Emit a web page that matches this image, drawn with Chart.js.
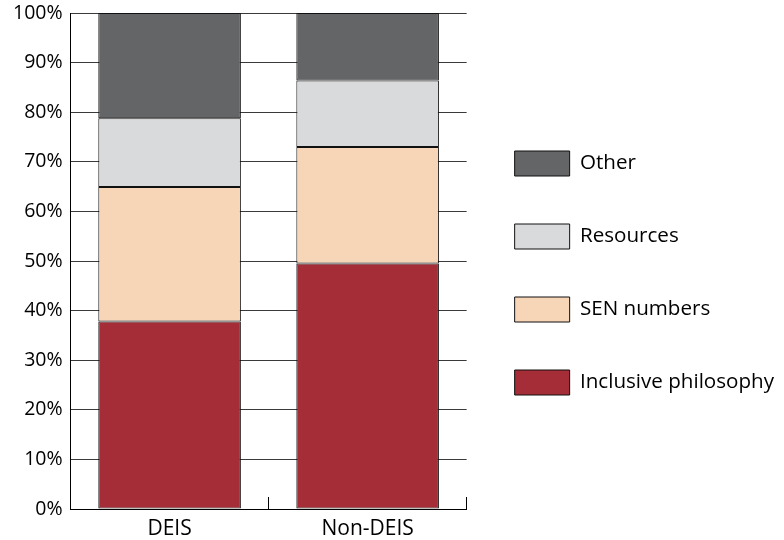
<!DOCTYPE html>
<html>
<head>
<meta charset="utf-8">
<script src="https://cdn.jsdelivr.net/npm/chart.js@4"></script>
<style>
  html, body { margin: 0; padding: 0; background: #fff; }
  #wrap { width: 784px; height: 540px; }
</style>
</head>
<body>
<div id="wrap"><canvas id="chart" width="784" height="540"></canvas></div>
<script>
const categories = ["DEIS", "Non-DEIS"];
const inclusive = [37.8, 49.5];
const senNumbers = [27.1, 23.5];
const resources = [13.9, 13.4];
const other = [21.2, 13.6];
const yTicks = [0, 10, 20, 30, 40, 50, 60, 70, 80, 90, 100];

const FONT = "'Open Sans', 'Noto Sans', sans-serif";

function makeSet(label, data, color) {
  return {
    label: label,
    data: data,
    backgroundColor: color,
    borderColor: "#111",
    borderWidth: 1,
    borderSkipped: false,
    barPercentage: 0.72,
    categoryPercentage: 1
  };
}

const chart = new Chart(document.getElementById("chart"), {
  type: "bar",
  data: {
    labels: categories,
    datasets: [
      makeSet("Inclusive philosophy", inclusive, "#a42d37"),
      makeSet("SEN numbers", senNumbers, "#f7d5b7"),
      makeSet("Resources", resources, "#d9dadc"),
      makeSet("Other", other, "#646567")
    ]
  },
  options: {
    responsive: false,
    animation: false,
    layout: { padding: { top: 0, left: 5, right: 0, bottom: -6 } },
    plugins: {
      tooltip: { enabled: false },
      legend: {
        position: "right",
        align: "center",
        reverse: true,
        maxWidth: 330,
        labels: {
          boxWidth: 55,
          boxHeight: 25,
          padding: 48,
          color: "#000",
          font: { family: FONT, size: 20.6 }
        }
      }
    },
    scales: {
      x: {
        stacked: true,
        offset: true,
        grid: {
          display: true,
          drawOnChartArea: false,
          drawTicks: true,
          tickLength: -12,
          color: "#000",
          offset: true
        },
        border: { display: true, color: "#000", width: 1 },
        ticks: {
          color: "#000",
          padding: 19,
          font: { family: FONT, size: 21 }
        },
        afterFit: function(scale) { scale.height = 37; }
      },
      y: {
        stacked: true,
        min: 0,
        max: 100,
        afterBuildTicks: function(scale) {
          scale.ticks = yTicks.map(v => ({ value: v }));
        },
        afterFit: function(scale) { scale.paddingTop = 13; },
        grid: {
          color: "#3a3a3a",
          drawTicks: false
        },
        border: { display: true, color: "#000", width: 1 },
        ticks: {
          color: "#000",
          padding: 8,
          font: { family: FONT, size: 19.5 },
          callback: v => v + "%"
        }
      }
    }
  }
});
</script>
</body>
</html>
